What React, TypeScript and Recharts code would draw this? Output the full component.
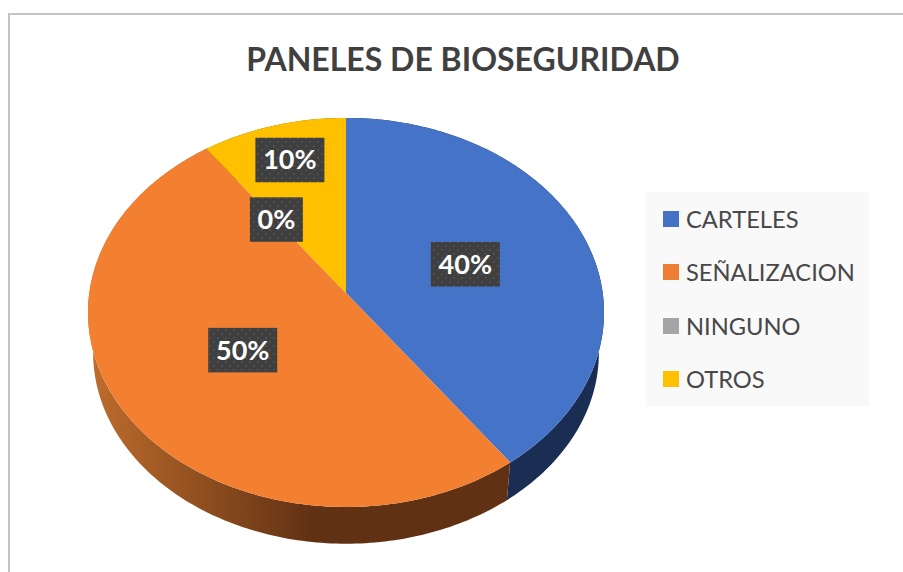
import { PieChart, Pie, Legend } from 'recharts';

const categories = ['CARTELES', 'SEÑALIZACION', 'NINGUNO', 'OTROS'];
const shares = [40, 50, 0, 10];
const faceColors = ['#4573c7', '#f37f31', '#a5a5a5', '#ffc000'];
const legendColors = ['#4472c4', '#ed7d31', '#a5a5a5', '#ffc000'];
const wallColors = ['#1a2d52', 'url(#orangeWall)', '#4d4d4d', '#7f6000'];

const faces = categories.map((name, i) => ({ name, value: shares[i], fill: faceColors[i], legendFill: legendColors[i] }));
const walls = categories.map((name, i) => ({ name, value: shares[i], fill: wallColors[i] }));

// the Excel 3D pie is a tilted disc seen in perspective, so the slices meet above the ellipse middle
const TILT = 0.1;
const SQUASH = 0.7465;
const NARROW = 0.995;
const DEPTH = 41;
const BOTTOM_SCALE = 0.98;

function project(cx: number, cy: number, r: number, angle: number, t = 1) {
  const a = (angle * Math.PI) / 180;
  const X = Math.cos(a) * t;
  const Y = Math.sin(a) * t;
  const d = 1 + TILT * Y;
  return [(r * NARROW * X) / d, (-r * SQUASH * Y) / d];
}

function rim(props: any) {
  const { startAngle, endAngle, cx, cy, outerRadius } = props;
  const steps = Math.max(1, Math.ceil(Math.abs(endAngle - startAngle)));
  const pts: number[][] = [];
  for (let i = 0; i <= steps; i++) {
    pts.push(project(cx, cy, outerRadius, startAngle + ((endAngle - startAngle) * i) / steps));
  }
  return pts;
}

function FaceSlice(props: any) {
  const { cx, cy, fill, startAngle, endAngle } = props;
  if (startAngle === endAngle) return null;
  const pts = rim(props).map(([x, y]) => `${cx + x},${cy + y}`);
  return <path d={`M${cx},${cy}L${pts.join('L')}Z`} fill={fill} />;
}

function WallSlice(props: any) {
  const { cx, cy, fill, startAngle, endAngle } = props;
  if (startAngle === endAngle) return null;
  const pts = rim(props);
  const upper = pts.map(([x, y]) => `${cx + x},${cy + y}`);
  const lower = pts
    .slice()
    .reverse()
    .map(([x, y]) => `${cx + x * BOTTOM_SCALE},${cy + y * BOTTOM_SCALE + DEPTH}`);
  return <path d={`M${upper.join('L')}L${lower.join('L')}Z`} fill={fill} />;
}

function SliceLabel(props: any) {
  const { cx, cy, outerRadius, midAngle, value, percent } = props;
  // the thin slice pushes its label out towards the rim
  const t = percent > 0 && percent < 0.2 ? 0.78 : 0.49;
  const [px, py] = project(cx, cy, outerRadius, midAngle, t);
  const x = px + 1.5;
  const y = py;
  const text = `${value}%`;
  const w = text.length > 2 ? 69 : 53;
  const h = 44.5;
  return (
    <g>
      <rect x={cx + x - w / 2} y={cy + y - h / 2} width={w} height={h} fill="#3f3f3f" />
      <rect x={cx + x - w / 2} y={cy + y - h / 2} width={w} height={h} fill="url(#labelDots)" />
      <text
        x={cx + x}
        y={cy + y + 9.5}
        textAnchor="middle"
        fontFamily="Lato"
        fontWeight={700}
        fontSize={27}
        fill="#ffffff"
      >
        {text}
      </text>
    </g>
  );
}

function LegendBox() {
  return (
    <div style={{ width: 223, height: 214, background: '#f9f9f9', position: 'relative' }}>
      {faces.map((f, i) => (
        <div
          key={f.name}
          style={{ position: 'absolute', left: 17, top: 19 + i * 53.3, height: 16, display: 'flex', alignItems: 'center' }}
        >
          <span style={{ width: 16, height: 16, background: f.legendFill, display: 'inline-block' }} />
          <span style={{ marginLeft: 7, fontFamily: 'Lato', fontSize: 23.7, color: '#484848', whiteSpace: 'nowrap' }}>{f.name}</span>
        </div>
      ))}
    </div>
  );
}

export default function App() {
  return (
    <div style={{ position: 'relative', width: 903, height: 572, overflow: 'hidden', background: '#fff' }}>
      <style>{'body{margin:0}'}</style>
      <div
        style={{
          position: 'absolute',
          left: 8,
          top: 13,
          width: 900,
          height: 570,
          borderLeft: '2px solid #c4c4c4',
          borderTop: '2px solid #c4c4c4',
        }}
      />
      <PieChart width={903} height={572} margin={{ top: 0, right: 0, bottom: 0, left: 0 }}>
        <defs>
          <linearGradient id="orangeWall" gradientUnits="userSpaceOnUse" x1={93} y1={0} x2={313} y2={0}>
            <stop offset="0%" stopColor="#bd6c2c" />
            <stop offset="100%" stopColor="#613113" />
          </linearGradient>
          <pattern id="labelDots" patternUnits="userSpaceOnUse" width={8} height={8}>
            <rect x={1} y={1} width={2} height={2} fill="#ffffff" fillOpacity={0.08} />
            <rect x={5} y={5} width={2} height={2} fill="#ffffff" fillOpacity={0.08} />
          </pattern>
        </defs>
        <text x={463} y={71} textAnchor="middle" fontFamily="Lato" fontWeight={700} fontSize={32} fill="#404040">
          PANELES DE BIOSEGURIDAD
        </text>
        <Pie
          data={walls}
          dataKey="value"
          nameKey="name"
          cx={346}
          cy={293}
          outerRadius={258}
          startAngle={90}
          endAngle={-270}
          stroke="none"
          legendType="none"
          shape={WallSlice}
          isAnimationActive={false}
        />
        <Pie
          data={faces}
          dataKey="value"
          nameKey="name"
          cx={346}
          cy={293}
          outerRadius={258}
          startAngle={90}
          endAngle={-270}
          stroke="none"
          shape={FaceSlice}
          label={SliceLabel}
          labelLine={false}
          isAnimationActive={false}
        />
        <Legend
          content={<LegendBox />}
          wrapperStyle={{ position: 'absolute', left: 646, top: 192, width: 223, height: 214 }}
        />
      </PieChart>
    </div>
  );
}
